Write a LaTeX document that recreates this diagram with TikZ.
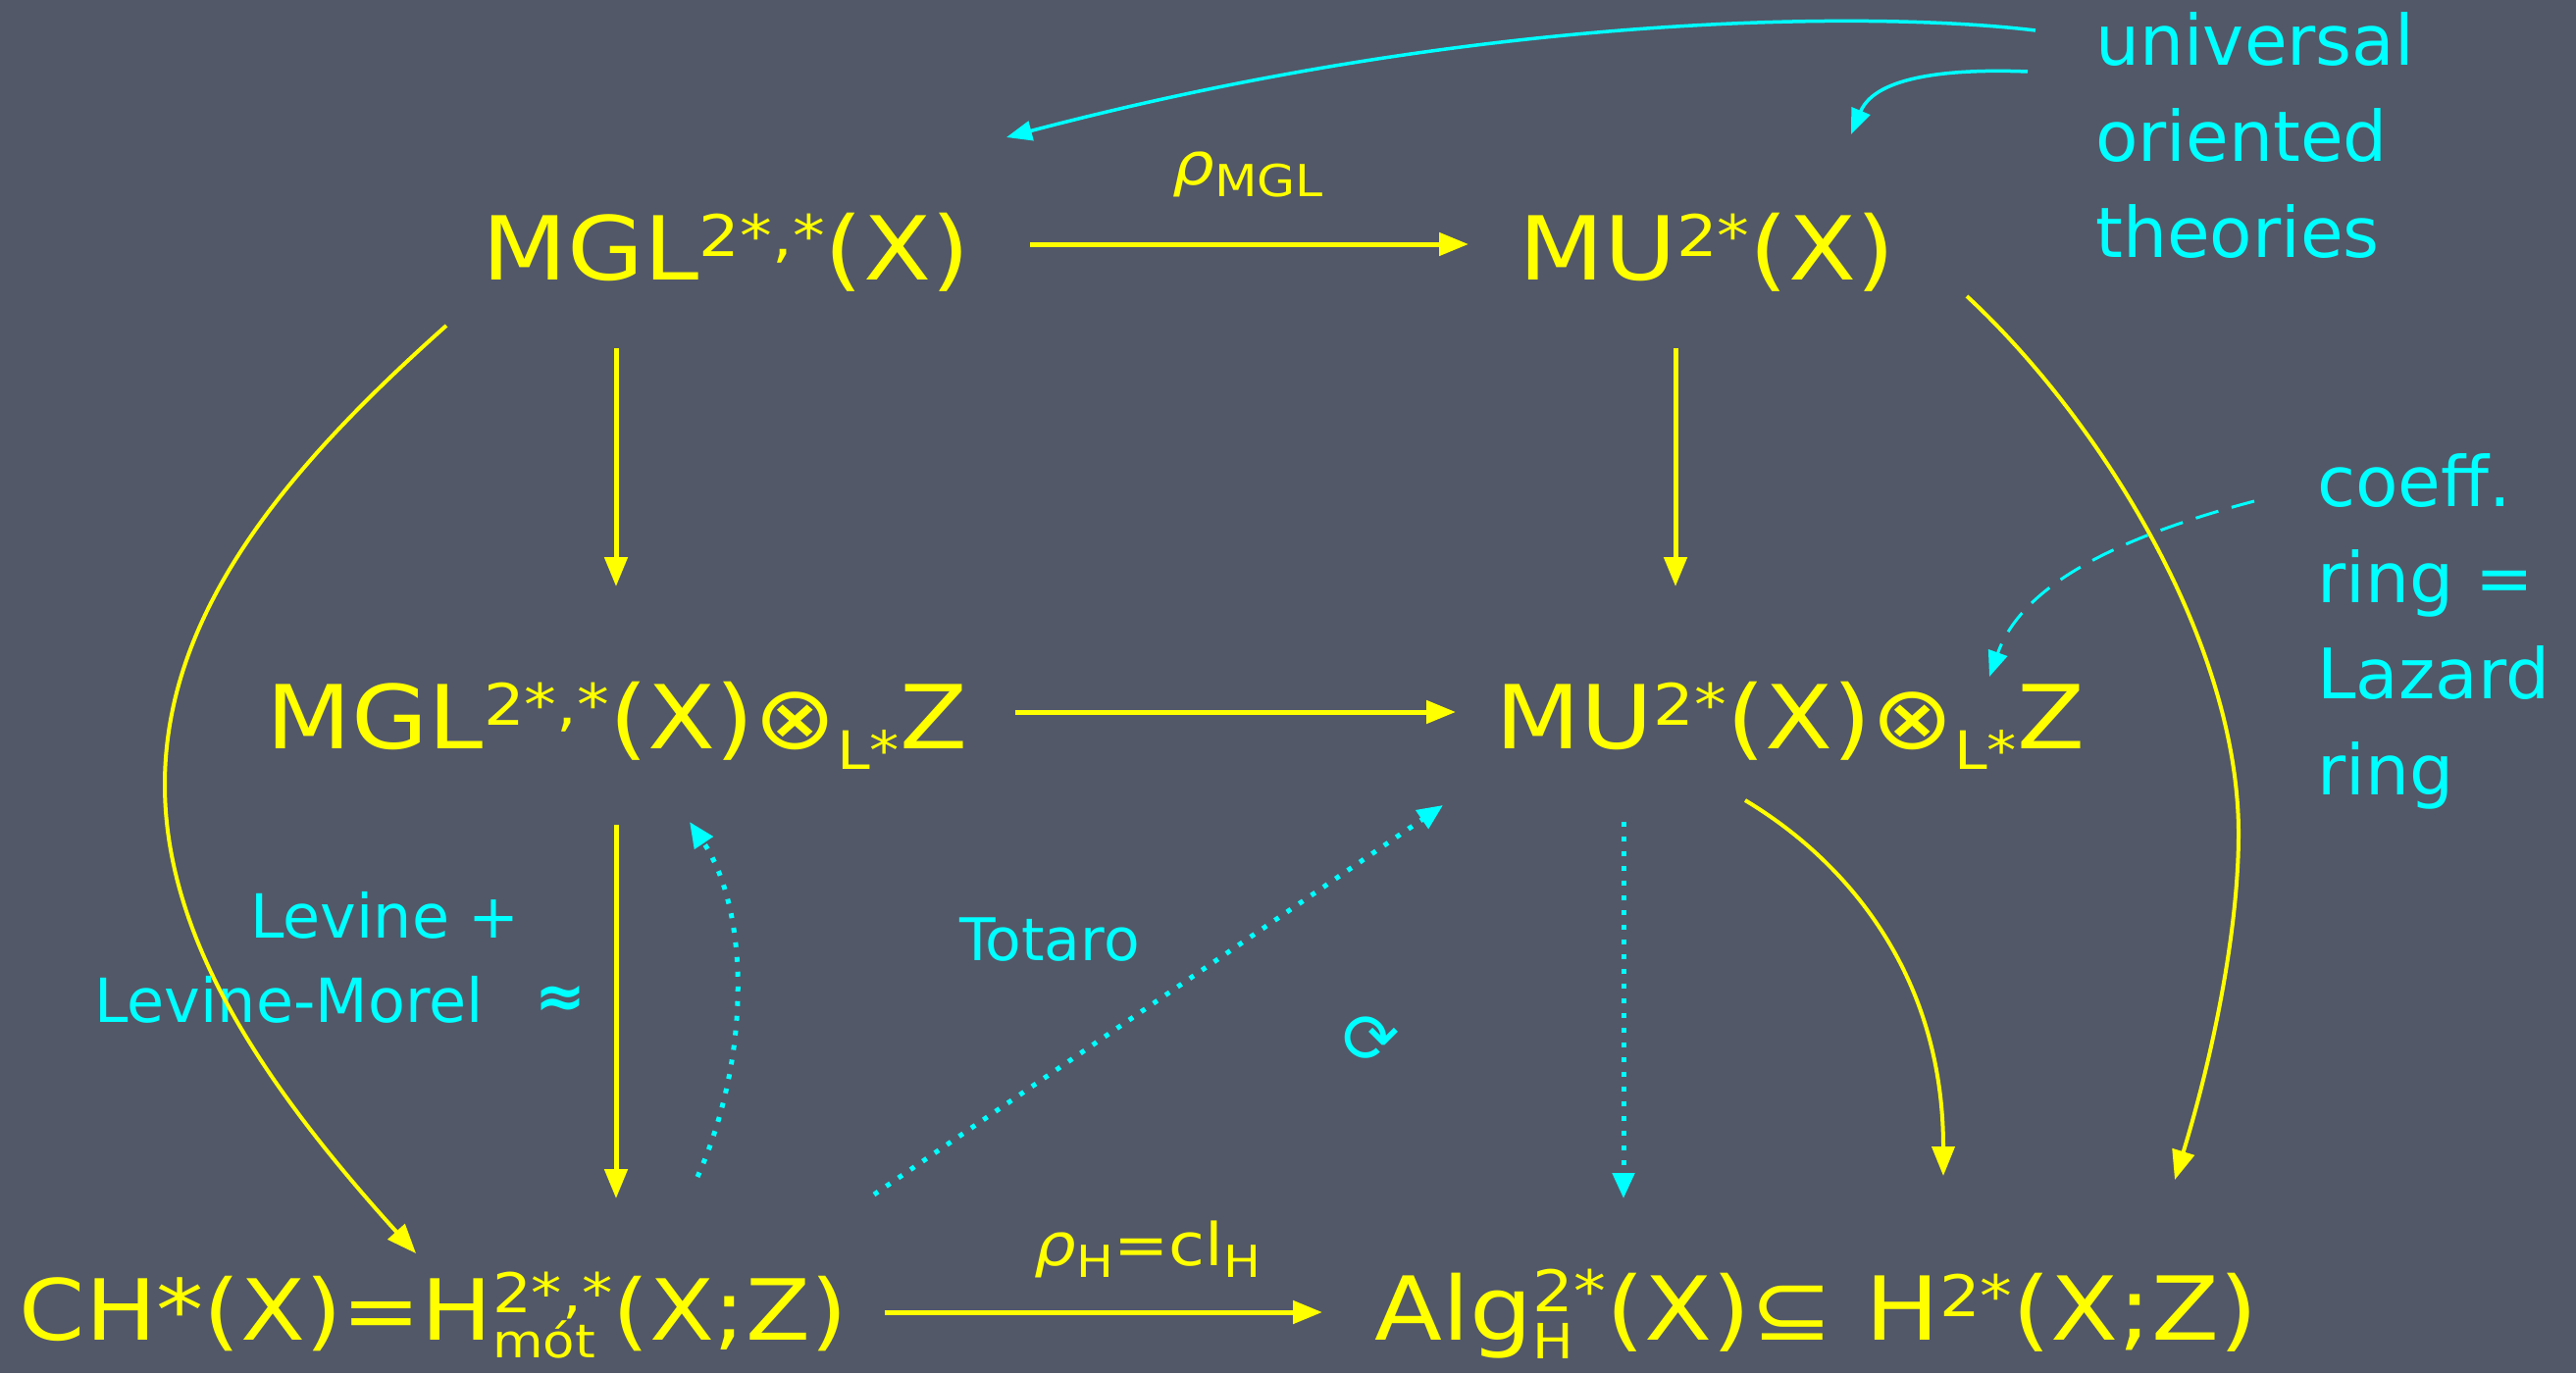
\documentclass[tikz,border=0pt]{standalone}
\usepackage{graphicx}
\usepackage{fontspec}
\setmainfont{DejaVu Sans}
\newfontfamily\widefont[FakeStretch=1.12]{DejaVu Sans}
\usetikzlibrary{arrows.meta}
\definecolor{board}{RGB}{82,88,104}
\definecolor{chalkY}{RGB}{255,255,0}
\definecolor{chalkC}{RGB}{0,255,255}
\newcommand\mysup[1]{\raisebox{0.26em}{\scalebox{0.65}{#1}}}
\newcommand\mysub[1]{\raisebox{-0.24em}{\scalebox{0.6}{#1}}}
\newcommand\labsub[1]{\raisebox{-0.2em}{\scalebox{0.75}{#1}}}
\newcommand\mysupsub[2]{\begingroup
  \setbox0\hbox{\scalebox{0.65}{#1}}\setbox2\hbox{\scalebox{0.55}{#2}}%
  \ifdim\wd0>\wd2 \dimen0=\wd0 \else \dimen0=\wd2 \fi
  \makebox[\dimen0][l]{\rlap{\raisebox{0.32em}{\box0}}\raisebox{-0.22em}{\box2}}\endgroup}
\begin{document}
\begin{tikzpicture}[x=1pt,y=-1pt,
  bigt/.style={text=chalkY, font=\widefont\fontsize{90}{104}\selectfont, inner sep=0pt},
  lab/.style={text=chalkY, font=\widefont\fontsize{60}{70}\selectfont, inner sep=0pt},
  note/.style={text=chalkC, font=\fontsize{71}{98}\selectfont, inner sep=0pt, align=left},
  cnote/.style={text=chalkC, font=\fontsize{62}{86}\selectfont, inner sep=0pt},
  ya/.style={draw=chalkY, line width=5pt, -{Triangle[length=30pt,width=23pt]}},
  yc/.style={draw=chalkY, line width=4pt, -{Triangle[length=30pt,width=23pt]}},
  ca/.style={draw=chalkC, line width=3.5pt, -{Triangle[length=26pt,width=20pt]}},
  cdot/.style={draw=chalkC, line width=5pt, dash pattern=on 5pt off 10pt, -{Triangle[length=26pt,width=22pt]}},
  cdash/.style={draw=chalkC, line width=3pt, dash pattern=on 24pt off 14pt, -{Triangle[length=26pt,width=20pt]}}]
\fill[board] (0,0) rectangle (2626,1400);
\useasboundingbox (0,0) rectangle (2626,1400);

% main objects
\node[bigt, anchor=base] (mgl) at (740,285) {MGL\mysup{2*,*}(X)};
\node[bigt, anchor=base] (mu) at (1740,285) {MU\mysup{2*}(X)};
\node[bigt, anchor=base] (mglz) at (629,763) {MGL\mysup{2*,*}(X)⊗\mysub{L*}Z};
\node[bigt, anchor=base] (muz) at (1825,763) {MU\mysup{2*}(X)⊗\mysub{L*}Z};
\node[bigt, anchor=base, font=\widefont\fontsize{86}{100}\selectfont] (ch) at (442,1366) {CH*(X)=H\mysupsub{2*,*}{mót}(X;Z)};
\node[bigt, anchor=base] (alg) at (1852,1366) {Alg\mysupsub{2*}{H}(X)⊆ H\mysup{2*}(X;Z)};

% labels
\node[lab, anchor=base] (rmgl) at (1272,188) {{\itshape ρ}\labsub{MGL}};
\node[lab, anchor=base] (rh) at (1170,1290) {{\itshape ρ}\labsub{H}=cl\labsub{H}};
\node[note, anchor=north west] (univ) at (2136,12) {universal\\oriented\\theories};
\node[note, anchor=north west] (coeff) at (2362,462) {coeff.\\ring =\\Lazard\\ring};
\node[cnote, anchor=base west] (lev1) at (255,956) {Levine +};
\node[cnote, anchor=base west] (lev2) at (96,1042) {Levine-Morel};
\node[cnote, anchor=base west, font=\fontsize{62}{86}\selectfont\bfseries] (approx) at (545,1037) {≈};
\node[cnote, anchor=base west, font=\fontsize{60}{70}\selectfont] (tot) at (978,979) {Totaro};
\node[cnote, font=\fontsize{70}{80}\selectfont] (comm) at (1398,1060) {⟳};

% arrow end points
\coordinate (t1) at (1050,249);  \coordinate (t2) at (1497,249);
\coordinate (l1) at (628,355);   \coordinate (l2) at (628,598);
\coordinate (r1) at (1708,355);  \coordinate (r2) at (1708,598);
\coordinate (m1) at (1035,726);  \coordinate (m2) at (1484,726);
\coordinate (ll1) at (628,841);  \coordinate (ll2) at (628,1222);
\coordinate (b1) at (902,1338);  \coordinate (b2) at (1348,1338);
\coordinate (rd1) at (1655,838); \coordinate (rd2) at (1655,1222);
\coordinate (td1) at (891,1218); \coordinate (td2) at (1471,821);
\coordinate (cd1) at (711,1200); \coordinate (cd2) at (703,838);
\coordinate (bl1) at (455,332);  \coordinate (blm) at (168,800); \coordinate (bl2) at (424,1278);
\coordinate (br1) at (2005,302); \coordinate (brm) at (2282,850); \coordinate (br2) at (2217,1203);
\coordinate (cm1) at (1779,816); \coordinate (cm2) at (1981,1199);
\coordinate (u1) at (2075,31);   \coordinate (u1e) at (1026,140);
\coordinate (u2) at (2067,73);   \coordinate (u2e) at (1887,137);
\coordinate (k1) at (2298,511);  \coordinate (k2) at (2028,690);

% yellow arrows
\draw[ya] (t1) -- (t2);
\draw[ya] (l1) -- (l2);
\draw[ya] (r1) -- (r2);
\draw[ya] (m1) -- (m2);
\draw[ya] (ll1) -- (ll2);
\draw[ya] (b1) -- (b2);
\draw[yc] (bl1) .. controls (300,470) and (168,620) .. (blm)
            .. controls (168,960) and (274,1112) .. (bl2);
\draw[yc] (br1) .. controls (2135,422) and (2282,650) .. (brm)
            .. controls (2282,950) and (2255,1079) .. (br2);
\draw[yc] (cm1) .. controls (1889,882) and (1981,1000) .. (cm2);

% cyan arrows
\draw[cdot] (rd1) -- (rd2);
\draw[cdot] (td1) -- (td2);
\draw[cdot] (cd1) .. controls (765,1080) and (765,930) .. (cd2);
\draw[ca] (u1) .. controls (1900,10) and (1500,15) .. (u1e);
\draw[ca] (u2) .. controls (1990,70) and (1912,77) .. (u2e);
\draw[cdash] (k1) .. controls (2150,550) and (2060,600) .. (k2);
\end{tikzpicture}
\end{document}
